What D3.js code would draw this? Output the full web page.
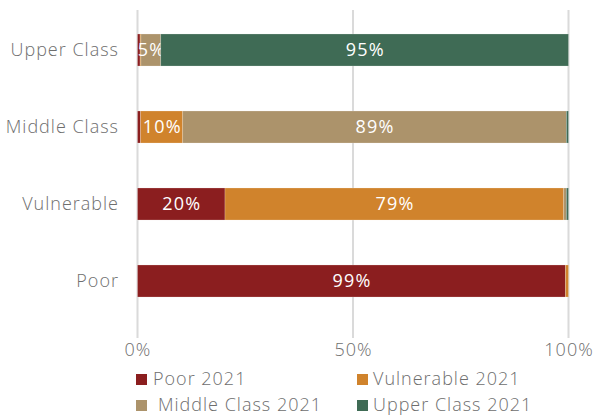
<!DOCTYPE html>
<html>
<head>
<meta charset="utf-8">
<script src="https://cdn.jsdelivr.net/npm/d3@7"></script>
<style>
  html, body { margin: 0; padding: 0; background: #fff; }
  svg { display: block; font-family: "Open Sans", Roboto, sans-serif; }
</style>
</head>
<body>
<svg id="chart" width="593" height="415"></svg>
<script>
// Class groups (rows, top to bottom)
const categories = ["Upper Class", "Middle Class", "Vulnerable", "Poor"];
// Share of each group by 2021 status (percent)
const poor2021       = [0.6, 0.7, 20.3, 99.3];
const vulnerable2021 = [0.2, 9.8, 78.6, 0.7];
const middle2021     = [4.6, 89.0, 0.6, 0.0];
const upper2021      = [94.6, 0.5, 0.5, 0.0];
const seriesNames = ["Poor 2021", "Vulnerable 2021", "Middle Class 2021", "Upper Class 2021"];
const seriesColors = ["#8B1E1F", "#D0832C", "#AC936B", "#3F6B55"];
const tickValues = [0, 50, 100];
const tickLabels = ["0%", "50%", "100%"];

const svg = d3.select("#chart");
const x = d3.scaleLinear().domain([0, 100]).range([137.5, 568.5]);
const y = d3.scaleBand().domain(categories).range([11.5, 319.5])
  .paddingInner(0.584).paddingOuter(0.292);

const rows = categories.map((c, i) => ({
  cat: c,
  "Poor 2021": poor2021[i],
  "Vulnerable 2021": vulnerable2021[i],
  "Middle Class 2021": middle2021[i],
  "Upper Class 2021": upper2021[i]
}));
const stacked = d3.stack().keys(seriesNames)(rows);
const color = d3.scaleOrdinal().domain(seriesNames).range(seriesColors);

// Vertical gridlines
svg.append("g").selectAll("line").data(tickValues).join("line")
  .attr("x1", d => x(d)).attr("x2", d => x(d))
  .attr("y1", 10).attr("y2", 338)
  .attr("stroke", "#dadada").attr("stroke-width", 2);

// Stacked bars
const layer = svg.append("g").selectAll("g").data(stacked).join("g")
  .attr("fill", d => color(d.key));
layer.selectAll("rect").data(d => d).join("rect")
  .attr("x", d => x(d[0]))
  .attr("y", d => y(d.data.cat))
  .attr("width", d => Math.max(0, x(d[1]) - x(d[0])))
  .attr("height", y.bandwidth())
  .attr("stroke", "#ffffff").attr("stroke-opacity", 0.35).attr("stroke-width", 0.6);

// Value labels inside segments
const fmt = v => Math.round(v) + "%";
layer.selectAll("text").data(d => d.filter(s => s[1] - s[0] >= 3)).join("text")
  .attr("x", d => (x(d[0]) + x(d[1])) / 2 + 0.6)
  .attr("y", d => y(d.data.cat) + y.bandwidth() / 2)
  .attr("dy", "0.36em")
  .attr("text-anchor", "middle")
  .attr("fill", "#ffffff")
  .attr("font-size", 18)
  .attr("font-weight", 400)
  .attr("letter-spacing", 1.2)
  .text(d => fmt(d[1] - d[0]));

// Category axis labels
svg.append("g").selectAll("text").data(categories).join("text")
  .attr("x", 119)
  .attr("y", d => y(d) + y.bandwidth() / 2)
  .attr("dy", "0.36em")
  .attr("text-anchor", "end")
  .attr("fill", "#6e6e6e")
  .attr("font-size", 18)
  .attr("font-weight", 300)
  .attr("letter-spacing", 1)
  .text(d => d);

// Percent axis
const xAxis = d3.axisBottom(x).tickValues(tickValues)
  .tickFormat((d, i) => tickLabels[i]).tickSize(0).tickPadding(0);
const ax = svg.append("g").attr("transform", "translate(0,343)").call(xAxis);
ax.select(".domain").remove();
ax.selectAll("text")
  .attr("fill", "#6e6e6e")
  .attr("font-size", 18)
  .attr("font-weight", 300)
  .attr("letter-spacing", 1)
  .attr("font-family", "'Open Sans', sans-serif");

// Legend (two columns)
const legendPos = [
  { sx: 136, tx: 153, y: 379 },
  { sx: 357, tx: 373, y: 379 },
  { sx: 136, tx: 158, y: 405 },
  { sx: 357, tx: 373, y: 405 }
];
const lg = svg.append("g").selectAll("g").data(seriesNames).join("g");
lg.append("rect")
  .attr("x", (d, i) => legendPos[i].sx)
  .attr("y", (d, i) => legendPos[i].y - 5)
  .attr("width", 11).attr("height", 11)
  .attr("fill", d => color(d));
lg.append("text")
  .attr("x", (d, i) => legendPos[i].tx)
  .attr("y", (d, i) => legendPos[i].y)
  .attr("dy", "0.36em")
  .attr("fill", "#6e6e6e")
  .attr("font-size", 18)
  .attr("font-weight", 300)
  .attr("letter-spacing", 1)
  .text(d => d);
</script>
</body>
</html>
